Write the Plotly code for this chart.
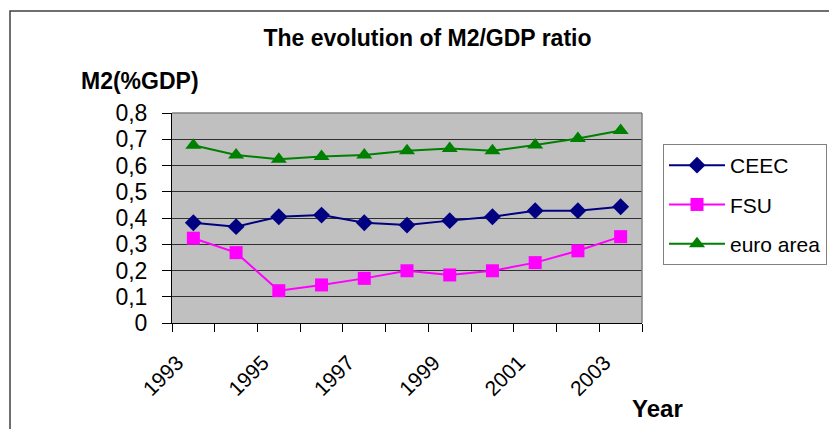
import plotly.graph_objects as go

years = [1993, 1994, 1995, 1996, 1997, 1998, 1999, 2000, 2001, 2002, 2003]
ceec = [0.382, 0.367, 0.405, 0.411, 0.382, 0.373, 0.390, 0.405, 0.428, 0.428, 0.443]
fsu = [0.323, 0.268, 0.123, 0.145, 0.170, 0.199, 0.183, 0.199, 0.230, 0.275, 0.329]
euro = [0.677, 0.640, 0.624, 0.634, 0.640, 0.656, 0.665, 0.656, 0.678, 0.703, 0.733]
y_ticks = [0, 0.1, 0.2, 0.3, 0.4, 0.5, 0.6, 0.7, 0.8]
x_label_years = years[::2]

FONT = "Liberation Sans, Arial, sans-serif"
W, H = 829, 429
L, R, T, B = 172, 187, 113, 106
pw, ph = W - L - R, H - T - B

def px_x(p):
    return (p - L) / pw

def px_y(p):
    return (H - B - p) / ph

fig = go.Figure()
series = [
    ("CEEC", ceec, "#000080", "diamond", 13),
    ("FSU", fsu, "#FF00FF", "square", 13),
    ("euro area", euro, "#008000", "triangle-up", 14),
]
for name, vals, col, sym, sz in series:
    fig.add_trace(go.Scatter(
        x=years, y=vals, name=name, mode="lines+markers",
        line=dict(color=col, width=2),
        marker=dict(symbol=sym, size=sz, color=col),
        legendgroup=name,
    ))

boundaries = [y - 0.5 for y in years] + [years[-1] + 0.5]

fig.update_layout(
    width=W, height=H,
    margin=dict(l=L, r=R, t=T, b=B, autoexpand=False),
    paper_bgcolor="white",
    plot_bgcolor="#C0C0C0",
    separators=",.",
    font=dict(family=FONT, color="black", size=20),
    title=dict(
        text="The evolution of M2/GDP ratio",
        font=dict(family=FONT, size=23, weight="bold", color="black"),
        x=px_x(427.5), xref="paper", xanchor="center",
        y=1 - 38 / H, yref="container", yanchor="middle",
    ),
    xaxis=dict(
        range=[years[0] - 0.5, years[-1] + 0.5], automargin=False,
        tickmode="array", tickvals=x_label_years,
        ticktext=[str(v) for v in x_label_years],
        tickangle=-45, ticks="", showgrid=False, zeroline=False,
        showline=True, linecolor="black", linewidth=1,
        tickfont=dict(family=FONT, size=21, color="black"),
        ticklabelstandoff=18, ticklabelshift=-16,
        minor=dict(tickmode="array", tickvals=boundaries, ticks="outside",
                   ticklen=8, tickcolor="black", tickwidth=1, showgrid=False),
    ),
    yaxis=dict(
        range=[0, 0.8], tickmode="array", tickvals=y_ticks, automargin=False,
        ticks="outside", ticklen=9, tickcolor="black",
        showgrid=True, gridcolor="#303030", gridwidth=1,
        zeroline=False, showline=True, linecolor="black", linewidth=1,
        tickfont=dict(family=FONT, size=23, color="black"),
        ticklabelstandoff=10,
    ),
    legend=dict(
        x=px_x(663), y=px_y(144), xanchor="left", yanchor="top",
        bordercolor="#808080", borderwidth=1, bgcolor="white",
        font=dict(family=FONT, size=21, color="black"),
        traceorder="grouped", tracegroupgap=9, itemwidth=56,
    ),
    showlegend=True,
)

fig.add_shape(type="line", xref="paper", yref="paper", x0=0, x1=1, y0=1, y1=1,
              line=dict(color="#808080", width=1.5), layer="above")
fig.add_shape(type="line", xref="paper", yref="paper", x0=1, x1=1, y0=0, y1=1,
              line=dict(color="#808080", width=1.5), layer="above")
fig.add_shape(type="rect", xref="paper", yref="paper",
              x0=px_x(10), x1=px_x(860), y0=px_y(11), y1=px_y(460),
              line=dict(color="#404040", width=1.5), layer="below")

fig.add_annotation(text="M2(%GDP)", xref="paper", yref="paper",
                   x=px_x(140), y=px_y(81), xanchor="center", yanchor="middle",
                   showarrow=False,
                   font=dict(family=FONT, size=23, weight="bold", color="black"))
fig.add_annotation(text="Year", xref="paper", yref="paper",
                   x=px_x(657), y=px_y(408), xanchor="center", yanchor="middle",
                   showarrow=False,
                   font=dict(family=FONT, size=24, weight="bold", color="black"))

fig.write_html("out.html", config={"displayModeBar": False},
               post_script="document.body.style.margin='0';")
